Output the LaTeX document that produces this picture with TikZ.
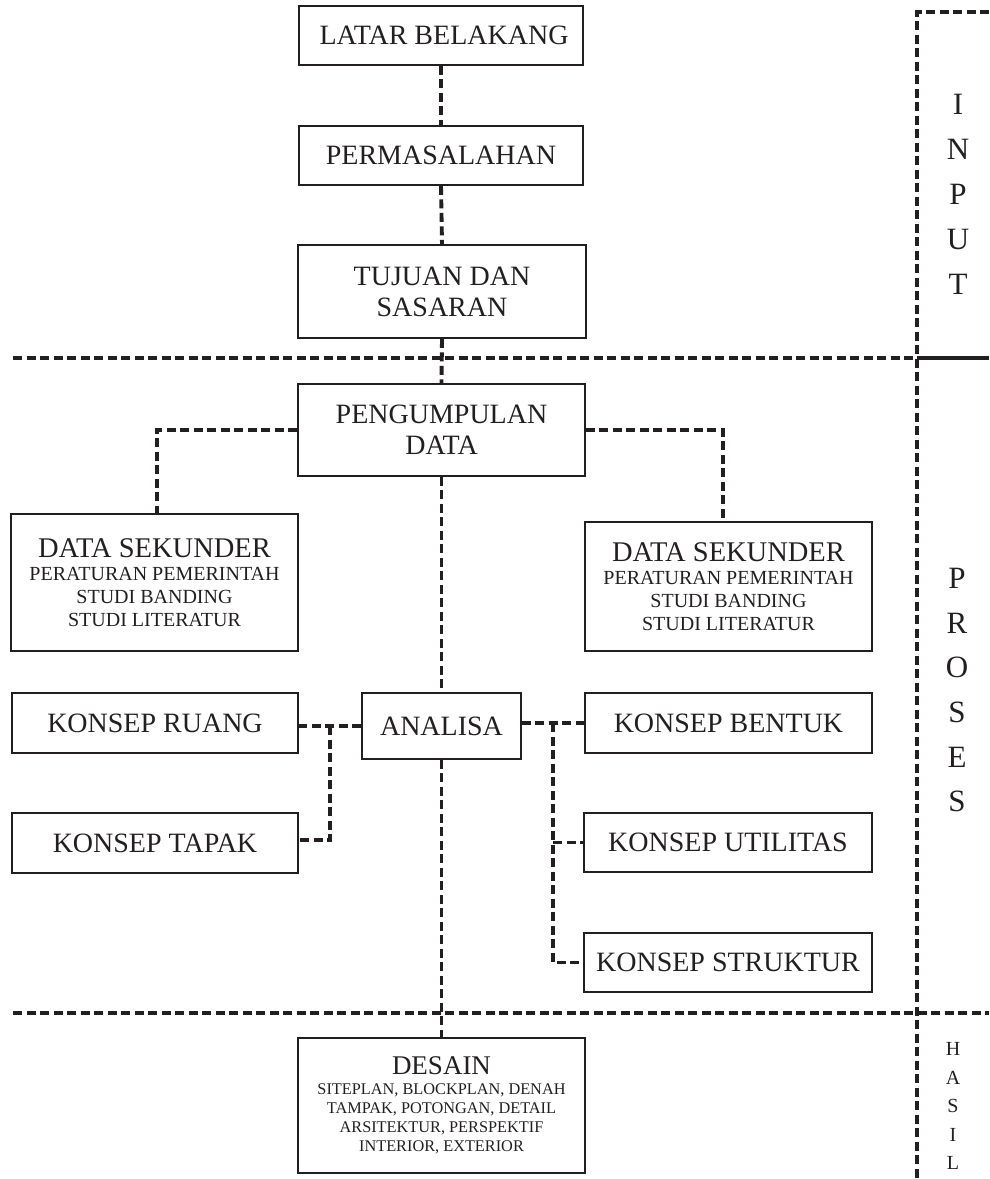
\documentclass[tikz,border=0pt]{standalone}
\usepackage{fontspec}
\setmainfont{Liberation Serif}
\usetikzlibrary{calc}
\definecolor{ink}{HTML}{231F20}
\begin{document}
\begin{tikzpicture}[x=1pt,y=-1pt,
  box/.style={draw=ink, line width=1.6pt, rectangle, inner sep=0pt, text=ink, align=center,
    font=\fontsize{28}{31}\selectfont},
  link/.style={draw=ink, line width=3.9pt, dash pattern=on 9pt off 4.5pt},
  sep/.style={draw=ink, line width=3.9pt, dash pattern=on 9pt off 4.5pt},
  side/.style={text=ink, inner sep=0pt, font=\fontsize{31}{31}\selectfont},
  sidesmall/.style={text=ink, inner sep=0pt, font=\fontsize{20}{20}\selectfont}]
\useasboundingbox (0,0) rectangle (989,1179);

% boxes
\node[box, minimum width=284, minimum height=59] (latar) at (441,35.5) {\hspace*{6pt}LATAR BELAKANG};
\node[box, minimum width=284, minimum height=59] (perm) at (441,155.5) {PERMASALAHAN};
\node[box, minimum width=288, minimum height=93] (tuj) at (442,291.5) {TUJUAN DAN\\SASARAN};
\node[box, minimum width=287, minimum height=92] (peng) at (441.5,430) {PENGUMPULAN\\DATA};
\node[box, minimum width=287, minimum height=137, font=\fontsize{20}{23}\selectfont] (dsl) at (154.5,582.5)
  {{\fontsize{28.5}{23}\selectfont DATA SEKUNDER}\\PERATURAN PEMERINTAH\\STUDI BANDING\\STUDI LITERATUR};
\node[box, minimum width=287, minimum height=129, font=\fontsize{20}{23}\selectfont] (dsr) at (728.5,586.5)
  {{\fontsize{28.5}{23}\selectfont DATA SEKUNDER}\\PERATURAN PEMERINTAH\\STUDI BANDING\\STUDI LITERATUR};
\node[box, minimum width=286, minimum height=60] (ruang) at (155,723) {KONSEP RUANG};
\node[box, minimum width=159, minimum height=66] (analisa) at (441.5,726) {ANALISA};
\node[box, minimum width=287, minimum height=60] (bentuk) at (728.5,723) {KONSEP BENTUK};
\node[box, minimum width=286, minimum height=60] (tapak) at (155,843) {KONSEP TAPAK};
\node[box, minimum width=288, minimum height=59] (util) at (728,842.5) {KONSEP UTILITAS};
\node[box, minimum width=288, minimum height=59] (strukt) at (728,962.5) {KONSEP STRUKTUR};
\node[box, minimum width=287, minimum height=135, font=\fontsize{16.3}{19}\selectfont] (desain) at (441.5,1105.5)
  {{\fontsize{27}{19}\selectfont DESAIN}\\[1pt]SITEPLAN, BLOCKPLAN, DENAH\\TAMPAK, POTONGAN, DETAIL\\ARSITEKTUR, PERSPEKTIF\\INTERIOR, EXTERIOR};

% separators
\coordinate (s1a) at (13,358);
\coordinate (s1b) at (917,358);
\coordinate (s1c) at (989,358);
\coordinate (s2a) at (13,1013);
\coordinate (s2b) at (989,1013);
\coordinate (vtop) at (917,12);
\coordinate (vtopr) at (989,12);
\coordinate (vbot) at (917,1179);
\draw[sep] (s1a) -- (s1b);
\draw[draw=ink, line width=3.9pt] (s1b) -- (s1c);
\draw[sep] (s2a) -- (s2b);
\draw[sep] (vtopr) -- (vtop) -- (vbot);

% connectors
\draw[link] (latar.south) -- (perm.north);
\draw[link] (perm.south) -- (tuj.north);
\draw[link] (tuj.south) -- (peng.north);
\draw[link] (peng.west |- 0,430) -| ([xshift=2.5pt]dsl.north);
\draw[link] (peng.east |- 0,430) -| ([xshift=-5.5pt]dsr.north);
\draw[link] (peng.south) -- (analisa.north);
\draw[link] (analisa.south) -- (desain.north);
\draw[link] (analisa.west) -- (ruang.east |- analisa.west);
\coordinate (jl) at (330,726);
\draw[link] (jl) |- ([yshift=3pt]tapak.east);
\draw[link] (analisa.east |- bentuk.west) -- (bentuk.west);
\coordinate (jr) at (553,723);
\draw[link] (jr) |- (strukt.west);
\draw[link] (jr |- util.west) -- (util.west);

% side labels
\node[side] (i1) at (958,104) {I};
\node[side] (i2) at (958,149) {N};
\node[side] (i3) at (958,194) {P};
\node[side] (i4) at (958,239) {U};
\node[side] (i5) at (958,284) {T};
\node[side] (p1) at (957,578) {P};
\node[side] (p2) at (957,623) {R};
\node[side] (p3) at (957,667) {O};
\node[side] (p4) at (957,712) {S};
\node[side] (p5) at (957,757) {E};
\node[side] (p6) at (957,801) {S};
\node[sidesmall] (h1) at (953,1049) {H};
\node[sidesmall] (h2) at (953,1078) {A};
\node[sidesmall] (h3) at (953,1106) {S};
\node[sidesmall] (h4) at (953,1135) {I};
\node[sidesmall] (h5) at (953,1163) {L};
\end{tikzpicture}
\end{document}
